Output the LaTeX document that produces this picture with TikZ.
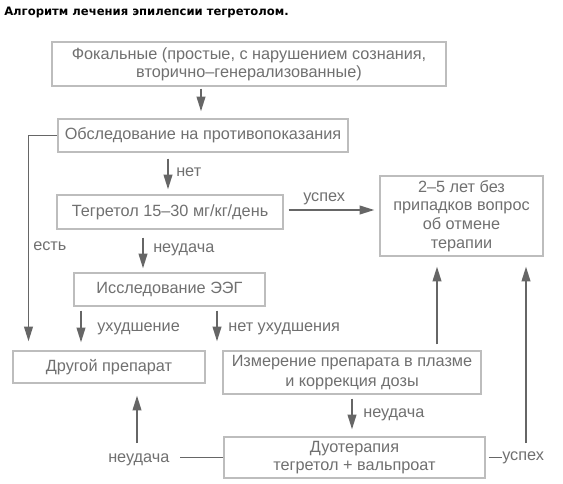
\documentclass[tikz,border=0pt]{standalone}
\usepackage{fontspec}
\setmainfont{Liberation Sans}
\newfontfamily\titlefont{DejaVu Sans}
\usetikzlibrary{arrows.meta,calc}
\definecolor{txt}{HTML}{707070}
\definecolor{frame}{HTML}{BDBDBD}
\definecolor{arr}{HTML}{666666}
\begin{document}
\begin{tikzpicture}[x=0.75pt,y=-0.75pt,
  box/.style={draw=frame, line width=1pt, inner sep=0pt, text=txt, align=center,
    font=\fontsize{12.2}{13.8}\selectfont},
  sz/.style 2 args={minimum width=#1*0.75pt, minimum height=#2*0.75pt},
  lab/.style={text=txt, inner sep=0pt, anchor=west, text height=6.3pt, text depth=0pt,
    font=\fontsize{12.2}{13.8}\selectfont},
  arrow/.style={draw=arr, line width=1.3pt, -{Triangle[length=11pt,width=6.5pt]}},
  conn/.style={draw=arr, line width=1.3pt}]
\useasboundingbox (0,0) rectangle (563,483);
\fill[white] (0,0) rectangle (563,483);

\node[anchor=base west, inner sep=0pt, font=\titlefont\bfseries\fontsize{8.7}{10}\selectfont] (title) at (4,15) {Алгоритм лечения эпилепсии тегретолом.};

\node[box, sz={394}{44}] (b1) at (249,64) {Фокальные (простые, с нарушением сознания,\\вторично–генерализованные)};
\node[box, sz={290}{33}] (b2) at (203,135.5) {Обследование на противопоказания};
\node[box, sz={226}{34}] (b3) at (170,212) {Тегретол 15–30 мг/кг/день};
\node[box, sz={191}{33}] (b4) at (169.5,289.5) {Исследование ЭЭГ};
\node[box, sz={163}{80}, font=\fontsize{12.2}{14}\selectfont] (b5) at (461.5,216) {2–5 лет без\\припадков вопрос\\об отмене\\терапии};
\node[box, sz={192}{32}] (b6) at (109,367) {Другой препарат};
\node[box, sz={258}{43}, font=\fontsize{12.2}{15}\selectfont] (b7) at (352,372.5) {Измерение препарата в плазме\\и коррекция дозы};
\node[box, sz={261}{41}] (b8) at (354.5,457.5) {Дуотерапия\\тегретол + вальпроат};

\node[lab] (lnet) at (176,172) {нет};
\node[lab] (lfail1) at (153,248) {неудача};
\node[lab] (lest) at (33,246) {есть};
\node[lab] (lsucc1) at (303,197) {успех};
\node[lab] (lworse) at (97,327) {ухудшение};
\node[lab] (lnworse) at (228,327) {нет ухудшения};
\node[lab] (lfail2) at (363,413) {неудача};
\node[lab] (lfail3) at (108,458) {неудача};
\node[lab] (lsucc2) at (502,456) {успех};

\coordinate (x201) at (201,0);
\coordinate (xl) at (28.5,0);
\coordinate (x168) at (168,0);
\coordinate (x143) at (143,0);
\coordinate (y210) at (0,210);
\coordinate (x81) at (81,0);
\coordinate (x217) at (217,0);
\coordinate (x437) at (437,0);
\coordinate (x352) at (352,0);
\coordinate (lu) at (137,443);
\coordinate (ru) at (526,443);

\draw[arrow, shorten <=1.5pt, shorten >=5.25pt] (b1.south -| x201) -- (b2.north -| x201);
\draw[arrow, shorten >=6.75pt] (b2.west) -| (b6.north -| xl);
\draw[arrow, shorten <=4.5pt, shorten >=3.75pt] (b2.south -| x168) -- (b3.north -| x168);
\draw[arrow, shorten <=6pt, shorten >=3pt] (b3.south -| x143) -- (b4.north -| x143);
\draw[arrow, shorten <=3.75pt, shorten >=3.75pt] (b3.east |- y210) -- (b5.west |- y210);
\draw[arrow, shorten <=3pt, shorten >=6pt] (b4.south -| x81) -- (b6.north -| x81);
\draw[arrow, shorten <=3pt, shorten >=6.75pt] (b4.south -| x217) -- (b7.north -| x217);
\draw[arrow, shorten <=4.5pt, shorten >=7.5pt] (b7.north -| x437) -- (b5.south -| x437);
\draw[arrow, shorten <=3pt, shorten >=5.25pt] (b7.south -| x352) -- (b8.north -| x352);
\draw[conn, shorten >=7.5pt] (b8.west) -- (lfail3.east |- b8.west);
\draw[arrow, shorten >=9pt] (lu) -- (b6.south -| lu);
\draw[conn, shorten <=2.25pt] (b8.east) -- (lsucc2.west |- b8.east);
\draw[arrow, shorten >=7.5pt] (ru) -- (b5.south -| ru);
\end{tikzpicture}
\end{document}
